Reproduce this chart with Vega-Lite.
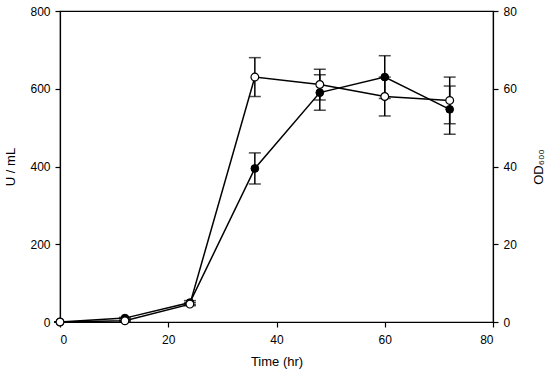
{
  "$schema": "https://vega.github.io/schema/vega-lite/v6.json",
  "width": 433,
  "height": 311,
  "autosize": "none",
  "padding": {"left": 60, "top": 11, "right": 57, "bottom": 55},
  "background": "white",
  "config": {
    "view": {"stroke": "black", "strokeWidth": 1.2},
    "font": "Liberation Sans",
    "axis": {
      "grid": false,
      "domainColor": "black",
      "domainWidth": 1.2,
      "tickColor": "black",
      "tickWidth": 1.2,
      "tickSize": 5,
      "labelFont": "Liberation Sans",
      "labelFontSize": 12,
      "labelColor": "black",
      "titleFont": "Liberation Sans",
      "titleFontSize": 13,
      "titleFontWeight": "normal",
      "titleColor": "black"
    }
  },
  "datasets": {
    "activity": [
      {"time": 0, "value": 0, "lo": 0, "hi": 0},
      {"time": 12, "value": 10, "lo": 8, "hi": 12},
      {"time": 24, "value": 50, "lo": 45, "hi": 55},
      {"time": 36, "value": 395, "lo": 355, "hi": 435},
      {"time": 48, "value": 590, "lo": 545, "hi": 636},
      {"time": 60, "value": 630, "lo": 575, "hi": 685},
      {"time": 72, "value": 547, "lo": 483, "hi": 607}
    ],
    "od": [
      {"time": 0, "value": 0, "lo": 0, "hi": 0},
      {"time": 12, "value": 0.3, "lo": 0.2, "hi": 0.4},
      {"time": 24, "value": 4.6, "lo": 4.2, "hi": 5.0},
      {"time": 36, "value": 63, "lo": 58, "hi": 68},
      {"time": 48, "value": 61.1, "lo": 57.1, "hi": 65},
      {"time": 60, "value": 58, "lo": 53, "hi": 63},
      {"time": 72, "value": 57, "lo": 51, "hi": 63}
    ]
  },
  "encoding": {
    "x": {
      "field": "time",
      "type": "quantitative",
      "scale": {"domain": [0, 80], "nice": false, "zero": false},
      "axis": {"values": [0, 20, 40, 60, 80], "title": "Time (hr)", "labelPadding": 7, "titlePadding": 10}
    }
  },
  "layer": [
    {
      "data": {"name": "activity"},
      "layer": [
        {
          "mark": {"type": "rule", "color": "black", "strokeWidth": 1.5},
          "encoding": {
            "y": {"field": "lo", "type": "quantitative", "scale": {"domain": [0, 800], "nice": false},
              "axis": {"values": [0, 200, 400, 600, 800], "title": "U / mL", "labelPadding": 5, "titlePadding": 12, "orient": "left"}},
            "y2": {"field": "hi"}
          }
        },
        {
          "mark": {"type": "tick", "orient": "horizontal", "color": "black", "size": 12, "thickness": 1.5},
          "encoding": {"y": {"field": "hi", "type": "quantitative"}}
        },
        {
          "mark": {"type": "tick", "orient": "horizontal", "color": "black", "size": 12, "thickness": 1.5},
          "encoding": {"y": {"field": "lo", "type": "quantitative"}}
        },
        {
          "mark": {"type": "line", "color": "black", "strokeWidth": 1.5},
          "encoding": {"y": {"field": "value", "type": "quantitative"}}
        },
        {
          "mark": {"type": "point", "shape": "circle", "filled": true, "fill": "black", "stroke": "black", "strokeWidth": 1, "size": 60, "opacity": 1},
          "encoding": {"y": {"field": "value", "type": "quantitative"}}
        }
      ]
    },
    {
      "data": {"name": "od"},
      "layer": [
        {
          "mark": {"type": "rule", "color": "black", "strokeWidth": 1.5},
          "encoding": {
            "y": {"field": "lo", "type": "quantitative", "scale": {"domain": [0, 80], "nice": false},
              "axis": {"values": [0, 20, 40, 60, 80], "title": "OD₆₀₀", "titleAngle": 270, "titleBaseline": "bottom", "labelPadding": 5, "titlePadding": 29, "orient": "right"}},
            "y2": {"field": "hi"}
          }
        },
        {
          "mark": {"type": "tick", "orient": "horizontal", "color": "black", "size": 12, "thickness": 1.5},
          "encoding": {"y": {"field": "hi", "type": "quantitative"}}
        },
        {
          "mark": {"type": "tick", "orient": "horizontal", "color": "black", "size": 12, "thickness": 1.5},
          "encoding": {"y": {"field": "lo", "type": "quantitative"}}
        },
        {
          "mark": {"type": "line", "color": "black", "strokeWidth": 1.5},
          "encoding": {"y": {"field": "value", "type": "quantitative"}}
        },
        {
          "mark": {"type": "point", "shape": "circle", "filled": true, "fill": "white", "stroke": "black", "strokeWidth": 1.2, "size": 60, "opacity": 1},
          "encoding": {"y": {"field": "value", "type": "quantitative"}}
        }
      ]
    }
  ],
  "resolve": {"scale": {"y": "independent"}}
}
